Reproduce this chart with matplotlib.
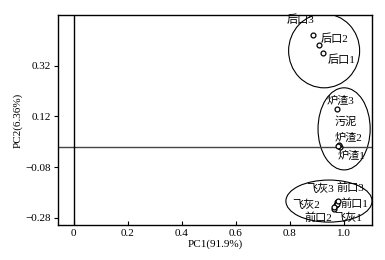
import numpy as np
import matplotlib
matplotlib.use('Agg')
import matplotlib.pyplot as plt
from matplotlib.patches import Ellipse

plt.rcParams['font.family'] = ['Liberation Serif', 'Noto Sans CJK SC']
plt.rcParams['axes.unicode_minus'] = True

# 样品名称与主成分得分
labels = ['后口1', '后口2', '后口3', '炉渣1', '炉渣2', '炉渣3', '污泥',
          '飞灰1', '飞灰2', '飞灰3', '前口1', '前口2', '前口3']
pc1 = [0.924, 0.909, 0.887, 0.986, 0.982, 0.976, 0.978,
       0.972, 0.963, 0.975, 0.976, 0.966, 0.979]
pc2 = [0.371, 0.403, 0.443, 0.000, 0.006, 0.148, 0.003,
       -0.229, -0.245, -0.219, -0.226, -0.239, -0.215]

# 标签偏移 (像素)
offs = [(19, -7), (16, 6), (-13, 15), (12, -9), (10, 7), (3, 8), (8, 25),
        (12, -13), (-27, 4), (-17, 14), (17, 0), (-16, -10), (12, 14)]

# 分组椭圆 (中心, 宽, 高)
groups_c = [(0.928, 0.379), (1.002, 0.071), (0.946, -0.214)]
groups_w = [0.263, 0.193, 0.319]
groups_h = [0.292, 0.324, 0.166]

fig = plt.figure(figsize=(3.85, 2.6), dpi=100)
ax = fig.add_axes([0.151, 0.135, 0.815, 0.807])

ax.axhline(0, color='#444444', lw=1.0)
ax.axvline(0, color='k', lw=1.0)

ax.plot(pc1, pc2, 'o', mfc='white', mec='k', ms=3.5, mew=0.9, ls='none')

for lab, x, y, (dx, dy) in zip(labels, pc1, pc2, offs):
    ax.annotate(lab, (x, y), xytext=(dx, dy), textcoords='offset pixels',
                ha='center', va='center', fontsize=8)

for c, w, h in zip(groups_c, groups_w, groups_h):
    ax.add_patch(Ellipse(c, w, h, fill=False, ec='k', lw=0.8))

ax.set_xlim(-0.057, 1.105)
ax.set_ylim(-0.308, 0.52)
ax.set_xticks([0, 0.2, 0.4, 0.6, 0.8, 1.0])
ax.set_xticklabels(['0', '0.2', '0.4', '0.6', '0.8', '1.0'])
ax.set_yticks([-0.28, -0.08, 0.12, 0.32])
ax.set_yticklabels(['\u22120.28', '\u22120.08', '0.12', '0.32'])
ax.tick_params(axis='x', direction='in', length=3, labelsize=8, pad=3)
ax.tick_params(axis='y', direction='out', length=3, labelsize=8, pad=2)
for s in ax.spines.values():
    s.set_linewidth(1.0)

ax.set_xlabel('PC1(91.9%)', fontsize=8, labelpad=1)
ax.set_ylabel('PC2(6.36%)', fontsize=8, labelpad=2)

fig.savefig('out.png', dpi=100)
